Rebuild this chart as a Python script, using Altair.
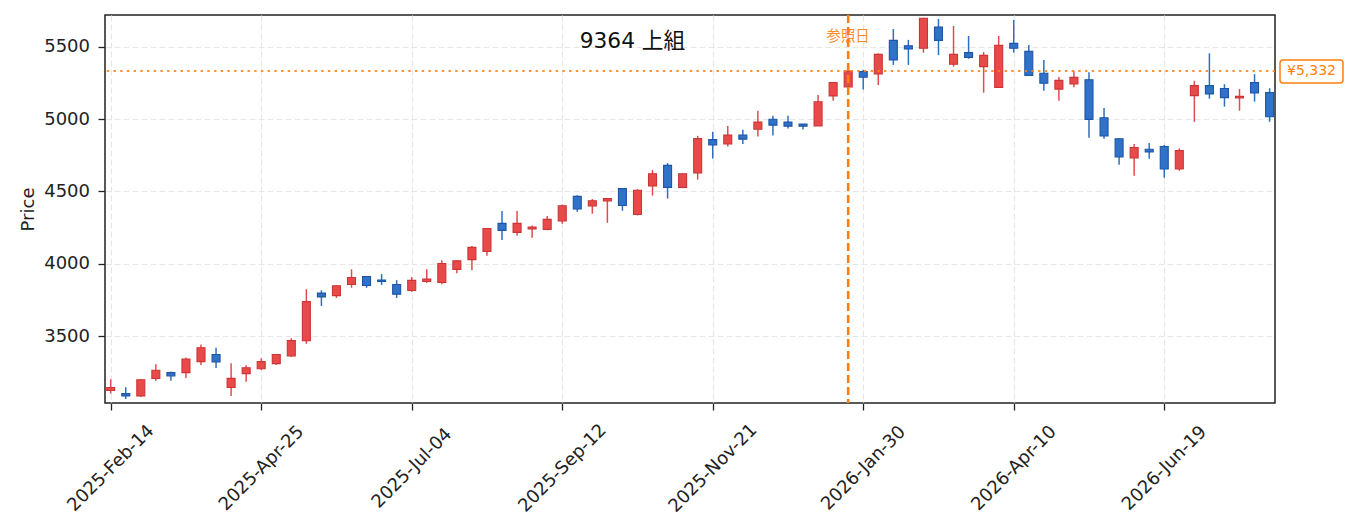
import altair as alt
import pandas as pd

# ---------------- data ----------------
title_text = "9364  上組"
start_date = "2025-02-14"
n_weeks = 78

opens = [3124, 3103, 3087, 3207, 3248, 3248, 3324, 3373, 3145, 3241,
         3275, 3310, 3363, 3468, 3797, 3780, 3857, 3912, 3887, 3857,
         3815, 3878, 3871, 3961, 4029, 4085, 4279, 4217, 4240, 4238,
         4296, 4466, 4399, 4434, 4519, 4341, 4538, 4680, 4528, 4627,
         4858, 4828, 4889, 4930, 4999, 4979, 4965, 4953, 5160, 5222,
         5328, 5311, 5544, 5507, 5489, 5635, 5379, 5459, 5362, 5219,
         5523, 5468, 5316, 5207, 5242, 5272, 5009, 4864, 4731, 4791,
         4810, 4655, 5162, 5231, 5211, 5146, 5252, 5183]
highs = [3202, 3147, 3202, 3306, 3256, 3352, 3443, 3420, 3312, 3299,
         3347, 3375, 3485, 3824, 3817, 3852, 3962, 3916, 3929, 3887,
         3908, 3962, 4025, 4022, 4122, 4246, 4364, 4364, 4265, 4330,
         4410, 4473, 4447, 4452, 4521, 4515, 4648, 4696, 4625, 4884,
         4912, 4952, 4926, 5057, 5022, 5022, 4966, 5167, 5254, 5334,
         5340, 5454, 5622, 5547, 5700, 5692, 5644, 5574, 5463, 5574,
         5685, 5512, 5408, 5291, 5332, 5323, 5076, 4868, 4828, 4835,
         4821, 4798, 5264, 5454, 5241, 5208, 5310, 5213]
lows = [3103, 3066, 3080, 3191, 3191, 3211, 3301, 3280, 3087, 3184,
        3266, 3301, 3356, 3447, 3709, 3764, 3834, 3834, 3854, 3764,
        3806, 3868, 3859, 3935, 3956, 4055, 4164, 4194, 4180, 4231,
        4277, 4359, 4346, 4283, 4366, 4334, 4471, 4450, 4522, 4582,
        4727, 4810, 4828, 4879, 4886, 4935, 4928, 4952, 5127, 5220,
        5204, 5235, 5374, 5374, 5459, 5442, 5362, 5417, 5182, 5218,
        5459, 5300, 5196, 5127, 5219, 4871, 4864, 4685, 4608, 4726,
        4595, 4643, 4981, 5141, 5086, 5058, 5120, 4981]
closes = [3145, 3087, 3199, 3264, 3225, 3342, 3420, 3322, 3208, 3282,
          3324, 3373, 3469, 3739, 3771, 3848, 3905, 3850, 3878, 3790,
          3885, 3894, 4002, 4020, 4113, 4244, 4231, 4279, 4254, 4307,
          4401, 4378, 4436, 4450, 4403, 4508, 4622, 4528, 4622, 4865,
          4821, 4889, 4861, 4979, 4958, 4951, 4951, 5120, 5252, 5332,
          5289, 5447, 5408, 5484, 5697, 5544, 5447, 5426, 5440, 5509,
          5489, 5302, 5247, 5267, 5288, 4998, 4883, 4738, 4803, 4773,
          4655, 4782, 5231, 5174, 5148, 5157, 5181, 5016]

tick_dates = ["2025-02-14", "2025-04-25", "2025-07-04", "2025-09-12",
              "2025-11-21", "2026-01-30", "2026-04-10", "2026-06-19"]
y_ticks = [3500, 4000, 4500, 5000, 5500]

ref_date = "2026-01-23"
ref_price = 5332
ref_label = "参照日"

# ---------------- frames ----------------
dates = pd.date_range(start_date, periods=n_weeks, freq="7D").strftime("%Y-%m-%d")
df = pd.DataFrame({"date": dates, "open": opens, "high": highs,
                   "low": lows, "close": closes})
df["dir"] = ["up" if c >= o else "down" for o, c in zip(opens, closes)]

ref_df = pd.DataFrame({"date": [ref_date], "price": [ref_price],
                       "label": [f"¥{ref_price:,}"]})

FONT = "DejaVu Sans, Noto Sans CJK JP"
ORANGE = "#ff7f0e"
INK = "#222222"


def dt(s, hours=0, minutes=0):
    y, m, d = (int(p) for p in s.split("-"))
    return alt.DateTime(year=y, month=m, date=d, hours=hours, minutes=minutes, utc=True)


xscale = alt.Scale(type="utc", nice=False, padding=0,
                   domain=[dt("2025-02-11", 8, 24), dt("2026-08-09", 12, 14)])
yscale = alt.Scale(domain=[3038, 5719], zero=False, nice=False, padding=0)

xaxis = alt.Axis(values=[dt(s) for s in tick_dates], format="%Y-%b-%d",
                 labelAngle=315, labelAlign="center", labelBaseline="middle",
                 labelPadding=58, labelFontSize=18, labelFont=FONT, labelColor=INK,
                 tickSize=7, tickWidth=1.3, tickColor=INK, domain=False,
                 grid=True, gridColor="#e6e6e6", gridDash=[6, 3], gridWidth=1.2,
                 labelOverlap=False, labelFlush=False, labelBound=False)
yaxis = alt.Axis(values=y_ticks, format="d", labelFontSize=18, labelFont=FONT,
                 labelColor=INK, labelPadding=8.5, tickSize=7, tickWidth=1.3,
                 tickColor=INK, domain=False, grid=True, gridColor="#e6e6e6",
                 gridDash=[6, 3], gridWidth=1.2, title="Price", titleFont=FONT,
                 titleFontSize=18, titleFontWeight="normal", titleColor=INK,
                 titlePadding=6)

X = alt.X("date:T", scale=xscale, axis=xaxis, title=None)

dir_dom = ["up", "down"]
wicks = alt.Chart(df).mark_rule(strokeWidth=1.5).encode(
    x=X,
    y=alt.Y("low:Q", scale=yscale, axis=yaxis, title="Price"),
    y2="high:Q",
    color=alt.Color("dir:N", scale=alt.Scale(domain=dir_dom, range=["#e14c4c", "#2f6fc0"]), legend=None),
)

bodies = alt.Chart(df).mark_bar(size=8, strokeWidth=1.1).encode(
    x=X,
    y=alt.Y("open:Q", scale=yscale, axis=yaxis, title="Price"),
    y2="close:Q",
    fill=alt.Fill("dir:N", scale=alt.Scale(domain=dir_dom, range=["#e84a4a", "#2f72c8"]), legend=None),
    stroke=alt.Stroke("dir:N", scale=alt.Scale(domain=dir_dom, range=["#cc3535", "#1f55a5"]), legend=None),
)

vline = alt.Chart(ref_df).mark_rule(color=ORANGE, strokeWidth=2.6, strokeDash=[8, 4]).encode(x=X)

hline = alt.Chart(ref_df).mark_rule(color=ORANGE, strokeWidth=2.2, strokeDash=[2.4, 4.3], opacity=0.85).encode(
    y=alt.Y("price:Q", scale=yscale, axis=yaxis, title="Price"))

ref_text = alt.Chart(ref_df).mark_text(color=ORANGE, font=FONT, fontSize=14.4, align="center",
                                       baseline="alphabetic", opacity=0.9).encode(
    x=X, y=alt.value(26), text=alt.value(ref_label))

box = alt.Chart(ref_df).mark_rect(fill="white", stroke=ORANGE, strokeWidth=1.5, cornerRadius=3,
                                  yOffset=-11, y2Offset=12).encode(
    x=alt.value(1175), x2=alt.value(1238),
    y=alt.Y("price:Q", scale=yscale, axis=yaxis, title="Price"), y2="price:Q")

box_text = alt.Chart(ref_df).mark_text(color=ORANGE, font=FONT, fontSize=14, align="center",
                                       baseline="middle").encode(
    x=alt.value(1206.5), y=alt.Y("price:Q", scale=yscale, axis=yaxis, title="Price"),
    text="label:N")

title = alt.Chart(ref_df).mark_text(color="#111111", font=FONT, fontSize=21.7, align="center",
                                    baseline="alphabetic").encode(
    x=alt.value(527.5), y=alt.value(33.3), text=alt.value(title_text))

chart = alt.layer(wicks, bodies, vline, hline, ref_text, box, box_text, title).properties(
    width=1170, height=388,
    autosize=alt.AutoSizeParams(type="none"),
    padding={"left": 97, "top": 7, "right": 70, "bottom": 119},
    background="white",
).configure_view(stroke=INK, strokeWidth=1.5)

chart.save("out.html", embed_options={"renderer": "svg", "actions": False})
